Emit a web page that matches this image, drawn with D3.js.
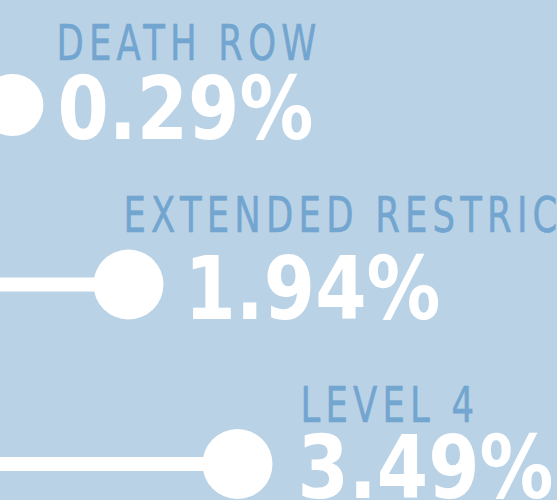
<!DOCTYPE html>
<html>
<head>
<meta charset="utf-8">
<script src="https://cdn.jsdelivr.net/npm/d3@7"></script>
<style>
  html, body { margin: 0; padding: 0; background: #bad2e6; overflow: hidden; }
  svg { display: block; }
</style>
</head>
<body>
<svg id="chart" width="557" height="500"></svg>
<script>
// ---- data ----
const categories = ["DEATH ROW", "EXTENDED RESTRICTIVE HOUSING", "LEVEL 4"];
const values = [0.29, 1.94, 3.49];
const valueLabels = ["0.29%", "1.94%", "3.49%"];

// ---- style ----
const bg = "#bad2e6";
const labelColor = "#72a5cf";
const markColor = "#ffffff";
const radii = [31, 35, 35];
const labelDx = [44, -5, 63];
const labelDy = [-45, -53, -42];
const valueDx = [49, 56, 60];
const valueDy = 34;

const W = 557, H = 500;
const svg = d3.select("#chart");
svg.append("rect").attr("width", W).attr("height", H).attr("fill", bg);

const x = d3.scaleLinear().domain([0, 3.49]).range([-8, 237.5]);
const y = d3.scalePoint().domain(categories).range([105, 464]);

const rows = categories.map((c, i) => ({ c, v: values[i], t: valueLabels[i], i }));

const g = svg.append("g");

// stems
g.selectAll("line.stem").data(rows).join("line")
  .attr("class", "stem")
  .attr("x1", -20).attr("x2", d => x(d.v))
  .attr("y1", d => y(d.c)).attr("y2", d => y(d.c))
  .attr("stroke", markColor).attr("stroke-width", 14);

// dots
g.selectAll("circle").data(rows).join("circle")
  .attr("cx", d => x(d.v)).attr("cy", d => y(d.c))
  .attr("r", d => radii[d.i]).attr("fill", markColor);

// category labels
const labels = g.selectAll("text.lab").data(rows).join("text")
  .attr("class", "lab")
  .attr("font-family", "'DejaVu Sans', sans-serif")
  .attr("font-size", 50)
  .attr("fill", labelColor)
  .attr("stroke", labelColor)
  .attr("stroke-width", 0.6)
  .text(d => d.c);

// values
const vals = g.selectAll("text.val").data(rows).join("text")
  .attr("class", "val")
  .attr("font-family", "'DejaVu Sans Condensed', 'DejaVu Sans', sans-serif")
  .attr("font-weight", "bold")
  .attr("font-size", 87)
  .attr("fill", markColor)
  .text(d => d.t);

// fit a narrow, letter-spaced look (DIN-like) to the reference widths
const n0 = labels.filter(d => d.i === 0).node();
const n1 = labels.filter(d => d.i === 1).node();
const w1 = n0.getComputedTextLength();          // "DEATH ROW" (9 chars)
const w2 = n1.getSubStringLength(0, 16);        // "EXTENDED RESTRIC" (16 chars)
// a*w1 + 8s = 260 ; a*w2 + 15s = 434
const s = (434 - 260 * w2 / w1) / (15 - 8 * w2 / w1);
const a = (260 - 8 * s) / w1;
labels.attr("letter-spacing", s / a);

const valW = vals.filter(d => d.i === 0).node().getComputedTextLength();
const valF = 256 / valW;

labels.attr("transform", d =>
  `translate(${x(d.v) + labelDx[d.i]},${y(d.c) + labelDy[d.i]}) scale(${a},1)`);
vals.attr("transform", d =>
  `translate(${x(d.v) + radii[d.i] + valueDx[d.i] - 35},${y(d.c) + valueDy}) scale(${valF},1)`);
</script>
</body>
</html>
